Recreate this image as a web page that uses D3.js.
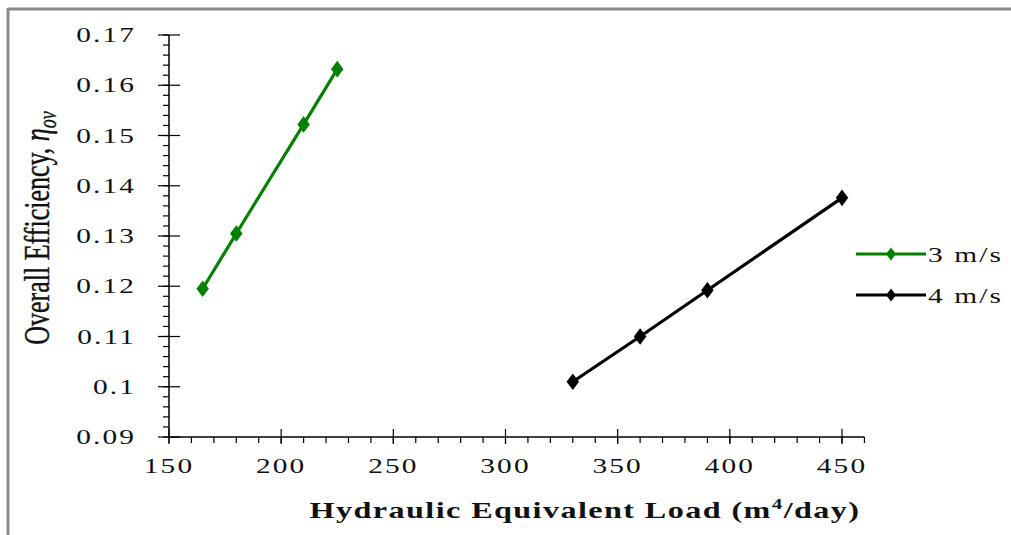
<!DOCTYPE html>
<html>
<head>
<meta charset="utf-8" />
<title>Overall efficiency vs hydraulic load</title>
<style>
  body { margin: 0; background: #fff; }
  text { font-family: "Liberation Serif", "Times New Roman", serif; fill: #111; }
</style>
</head>
<body>
<svg id="svg" width="1011" height="535"></svg>
<script src="https://cdn.jsdelivr.net/npm/d3@7/dist/d3.min.js"></script>
<script>
// data
var load3 = [165, 180, 210, 225];
var eff3 = [0.1195, 0.1305, 0.1522, 0.1632];
var load4 = [330, 360, 390, 450];
var eff4 = [0.101, 0.110, 0.1192, 0.1376];
var seriesNames = ["3 m/s", "4 m/s"];
var seriesColors = ["#008000", "#000000"];
var xTicks = [150, 200, 250, 300, 350, 400, 450];
var yTicks = [0.09, 0.1, 0.11, 0.12, 0.13, 0.14, 0.15, 0.16, 0.17];

var svg = d3.select("#svg");
var stretch = 1.4; // the picture looks stretched sideways

// frame (top + left only)
svg.append("line").attr("x1", 8).attr("y1", 9).attr("x2", 1011).attr("y2", 9)
  .attr("stroke", "#8a8a8a").attr("stroke-width", 3);
svg.append("line").attr("x1", 8).attr("y1", 8).attr("x2", 8).attr("y2", 535)
  .attr("stroke", "#8a8a8a").attr("stroke-width", 3);

var x = d3.scaleLinear().domain([150, 450]).range([169, 842]);
var y = d3.scaleLinear().domain([0.09, 0.17]).range([437, 35]);
var x0 = x(150), y0 = y(0.09), xEnd = x(460);

var g = svg.append("g");

// axis lines
g.append("line").attr("x1", x0).attr("x2", x0).attr("y1", y(0.17)).attr("y2", y0)
  .attr("stroke", "#000").attr("stroke-width", 1.5);
g.append("line").attr("x1", x0).attr("x2", xEnd).attr("y1", y0).attr("y2", y0)
  .attr("stroke", "#000").attr("stroke-width", 1.5);

// y minor ticks
var yMinor = d3.range(0, 41).map(function(i) { return 0.09 + i * 0.002; });
g.selectAll(".ymin").data(yMinor).enter().append("line")
  .attr("x1", x0 - 6).attr("x2", x0)
  .attr("y1", function(d) { return y(d); }).attr("y2", function(d) { return y(d); })
  .attr("stroke", "#000").attr("stroke-width", 1.2);
// y major ticks (cross)
g.selectAll(".ymaj").data(yTicks).enter().append("line")
  .attr("x1", x0 - 11).attr("x2", x0 + 11)
  .attr("y1", function(d) { return y(d); }).attr("y2", function(d) { return y(d); })
  .attr("stroke", "#000").attr("stroke-width", 1.2);

// x minor ticks
var xMinor = d3.range(150, 461, 10);
g.selectAll(".xmin").data(xMinor).enter().append("line")
  .attr("x1", function(d) { return x(d); }).attr("x2", function(d) { return x(d); })
  .attr("y1", y0).attr("y2", y0 + 6)
  .attr("stroke", "#000").attr("stroke-width", 1.2);
g.selectAll(".xmaj").data(xTicks).enter().append("line")
  .attr("x1", function(d) { return x(d); }).attr("x2", function(d) { return x(d); })
  .attr("y1", y0 - 8).attr("y2", y0 + 7)
  .attr("stroke", "#000").attr("stroke-width", 1.2);

// tick labels
g.selectAll(".ylab").data(yTicks).enter().append("text")
  .attr("transform", function(d) { return "translate(136," + (y(d) + 7) + ") scale(" + stretch + ",1)"; })
  .attr("text-anchor", "end")
  .attr("font-size", 21)
  .attr("letter-spacing", 1.5)
  .text(function(d) { return String(+d.toFixed(2)); });

g.selectAll(".xlab").data(xTicks).enter().append("text")
  .attr("transform", function(d) { return "translate(" + x(d) + ",473) scale(" + stretch + ",1)"; })
  .attr("text-anchor", "middle")
  .attr("font-size", 21)
  .attr("letter-spacing", 1.5)
  .text(function(d) { return d; });

// axis titles
var xt = svg.append("text")
  .attr("transform", "translate(585,518) scale(" + stretch + ",1)")
  .attr("text-anchor", "middle")
  .attr("font-size", 23)
  .attr("font-weight", "bold")
  .attr("letter-spacing", 1);
xt.append("tspan").text("Hydraulic Equivalent Load (m");
xt.append("tspan").attr("font-size", 15).attr("dy", -9).text("4");
xt.append("tspan").attr("dy", 9).text("/day)");

var yt = svg.append("text")
  .attr("transform", "translate(49,228) rotate(-90) scale(1," + stretch + ")")
  .attr("text-anchor", "middle")
  .attr("font-size", 26)
  .attr("stroke", "#111").attr("stroke-width", 0.3);
yt.append("tspan").text("Overall Efficiency, ");
yt.append("tspan").attr("font-style", "italic").text("η");
yt.append("tspan").attr("font-style", "italic").attr("font-size", 18).attr("dy", 5).text("ov");

// series
var series = [
  { name: seriesNames[0], color: seriesColors[0], xs: load3, ys: eff3 },
  { name: seriesNames[1], color: seriesColors[1], xs: load4, ys: eff4 }
];
var line = d3.line().x(function(d) { return x(d[0]); }).y(function(d) { return y(d[1]); });
var diamond = d3.symbol().type(d3.symbolDiamond).size(80);

series.forEach(function(s) {
  var pts = s.xs.map(function(v, i) { return [v, s.ys[i]]; });
  svg.append("path").datum(pts).attr("d", line)
    .attr("fill", "none").attr("stroke", s.color).attr("stroke-width", 3.2);
  svg.selectAll(null).data(pts).enter().append("path")
    .attr("d", diamond)
    .attr("transform", function(d) { return "translate(" + x(d[0]) + "," + y(d[1]) + ") scale(1.3,1)"; })
    .attr("fill", s.color);
});

// legend
var leg = svg.append("g").attr("transform", "translate(856,254)");
series.forEach(function(s, i) {
  var row = leg.append("g").attr("transform", "translate(0," + i * 41 + ")");
  row.append("line").attr("x1", 0).attr("x2", 70).attr("y1", 0).attr("y2", 0)
    .attr("stroke", s.color).attr("stroke-width", 3);
  row.append("path").attr("d", d3.symbol().type(d3.symbolDiamond).size(50))
    .attr("transform", "translate(35,0) scale(1.3,1)").attr("fill", s.color);
  row.append("text").attr("transform", "translate(72,8) scale(" + stretch + ",1)")
    .attr("font-size", 21).attr("letter-spacing", 1.5).text(s.name);
});
</script>
</body>
</html>
